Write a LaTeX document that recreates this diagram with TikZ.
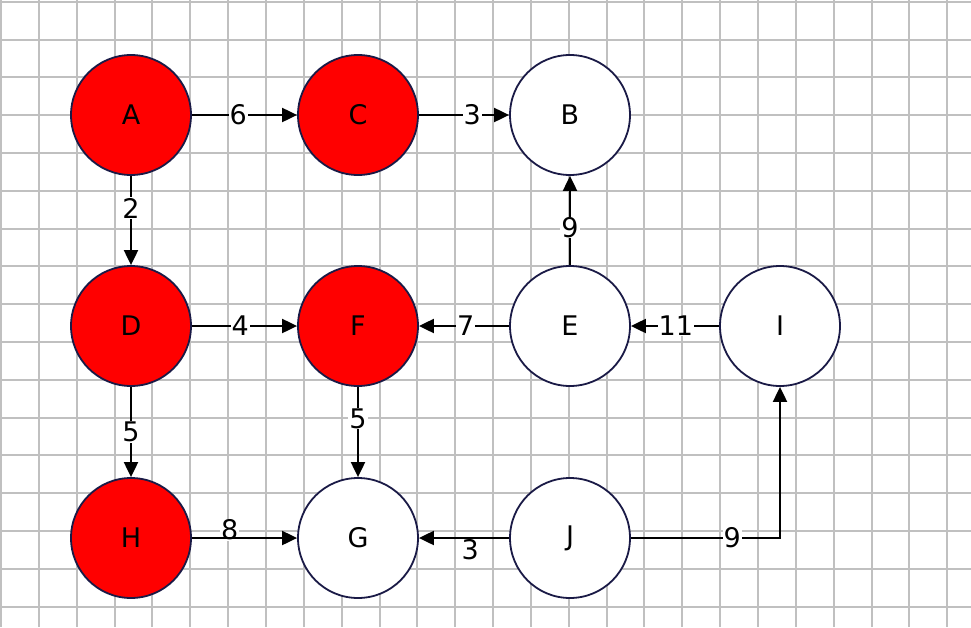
\documentclass[tikz,border=0pt]{standalone}
\usepackage{fontspec}
\setmainfont{DejaVu Sans}
\usetikzlibrary{arrows.meta}

\definecolor{gridgray}{RGB}{192,192,192}
\definecolor{rimblue}{RGB}{26,26,70}
\definecolor{visitred}{RGB}{255,0,0}

\begin{document}
\begin{tikzpicture}[
        x=1pt,y=-1pt,
        vertex/.style={circle,draw=rimblue,line width=1.8pt,fill=white,
          minimum size=120pt,inner sep=0pt,font=\fontsize{27}{32}\selectfont},
        visited/.style={vertex,fill=visitred},
        edge/.style={-{Triangle[length=15pt,width=14pt]},line width=2pt},
        weight/.style={fill=white,inner xsep=1pt,inner ysep=0.5pt,font=\fontsize{27}{32}\selectfont}
      ]
        \useasboundingbox (0,0) rectangle (971,627);
        \fill[white] (0,0) rectangle (971,627);
        % grid
        \foreach \i in {0,...,25}
          \draw[gridgray,line width=2pt] ({1+37.85*\i},0) -- ({1+37.85*\i},627);
        \foreach \j in {0,...,16}
          \draw[gridgray,line width=2pt] (0,{1.7+37.8*\j}) -- (971,{1.7+37.8*\j});

        % vertices
        \node[visited] (A) at (131,115) {A};
        \node[visited] (C) at (358,115) {C};
        \node[vertex]  (B) at (570,115) {B};
        \node[visited] (D) at (131,326) {D};
        \node[visited] (F) at (358,326) {F};
        \node[vertex]  (E) at (570,326) {E};
        \node[vertex]  (I) at (780,326) {I};
        \node[visited] (H) at (131,538) {H};
        \node[vertex]  (G) at (358,538) {G};
        \node[vertex]  (J) at (570,538) {J};

        % edges
        \draw[edge] (A) -- node[weight,pos=0.44] {6} (C);
        \draw[edge] (C) -- node[weight,pos=0.59] {3} (B);
        \draw[edge] (A) -- node[weight,pos=0.36] {2} (D);
        \draw[edge] (D) -- node[weight,pos=0.46] {4} (F);
        \draw[edge] (E) -- node[weight,pos=0.48] {7} (F);
        \draw[edge] (I) -- node[weight,pos=0.49] {11} (E);
        \draw[edge] (E) -- node[weight,pos=0.42] {9} (B);
        \draw[edge] (D) -- node[weight,pos=0.5] {5} (H);
        \draw[edge] (F) -- node[weight,pos=0.35] {5} (G);
        \path (H) -- node[weight,pos=0.36,yshift=8pt] {8} (G);
        \draw[edge] (H) -- (G);
        \path (J) -- node[weight,pos=0.43,yshift=-12pt] {3} (G);
        \draw[edge] (J) -- (G);
        \draw[edge] (J) -| node[weight,pos=0.34] {9} (I);
      \end{tikzpicture}
\end{document}
